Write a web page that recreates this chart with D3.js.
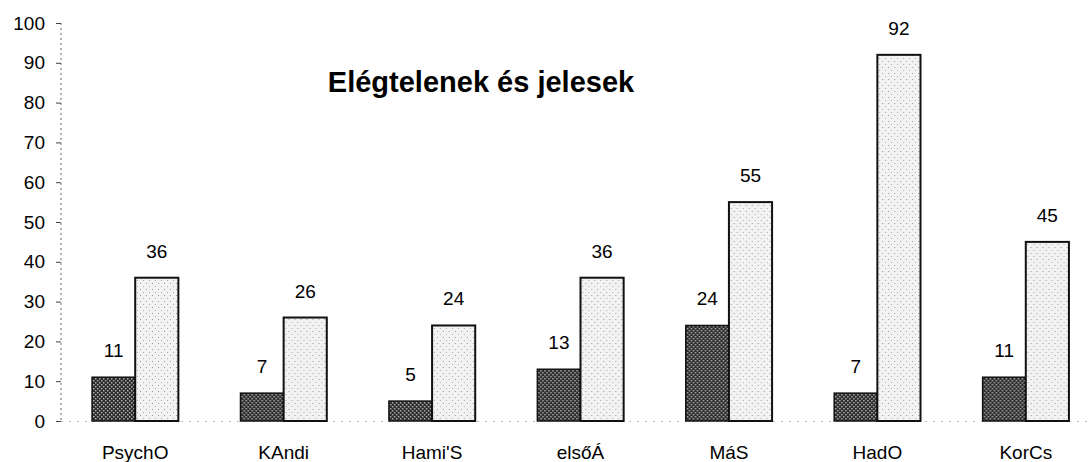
<!DOCTYPE html>
<html>
<head>
<meta charset="utf-8">
<script src="https://cdn.jsdelivr.net/npm/d3@7"></script>
<style>
  body { margin: 0; background: #fff; }
  svg { display: block; font-family: Arial, "Liberation Sans", sans-serif; }
</style>
</head>
<body>
<svg id="chart" width="1091" height="462"></svg>
<script>
// adatok
const categories = ['PsychO', 'KAndi', "Hami'S", 'elsőÁ', 'MáS', 'HadO', 'KorCs'];
const elegtelen = [11, 7, 5, 13, 24, 7, 11];
const jeles = [36, 26, 24, 36, 55, 92, 45];
const yTicks = [0, 10, 20, 30, 40, 50, 60, 70, 80, 90, 100];
const title = 'Elégtelenek és jelesek';

const svg = d3.select('#chart');
const x0 = 61, x1 = 1100, yBottom = 421, yTop = 23;
const font = 'Arial, "Liberation Sans", sans-serif';

const x = d3.scaleBand().domain(categories).range([x0, x1]).paddingInner(0).paddingOuter(0);
const xs = d3.scaleBand().domain(['e', 'j']).range([0, x.bandwidth()]).paddingInner(0).paddingOuter(0.72);
const y = d3.scaleLinear().domain([0, 100]).range([yBottom, yTop]);

// mintázatok
const defs = svg.append('defs');
const dark = defs.append('pattern').attr('id', 'dark')
    .attr('patternUnits', 'userSpaceOnUse').attr('width', 4).attr('height', 4);
dark.append('rect').attr('width', 4).attr('height', 4).attr('fill', '#2a2a2a');
dark.append('rect').attr('x', 0).attr('y', 0).attr('width', 1.5).attr('height', 1.5).attr('fill', '#b0b0b0');
dark.append('rect').attr('x', 2).attr('y', 2).attr('width', 1.5).attr('height', 1.5).attr('fill', '#b0b0b0');

const light = defs.append('pattern').attr('id', 'light')
    .attr('patternUnits', 'userSpaceOnUse').attr('width', 6).attr('height', 6);
light.append('rect').attr('width', 6).attr('height', 6).attr('fill', '#f2f2f2');
light.append('rect').attr('x', 1).attr('y', 1).attr('width', 1).attr('height', 1).attr('fill', '#999');
light.append('rect').attr('x', 4).attr('y', 4).attr('width', 1).attr('height', 1).attr('fill', '#aaa');

// tengelyek
svg.append('line')
    .attr('x1', x0).attr('x2', x0).attr('y1', y(100)).attr('y2', y(0))
    .attr('stroke', '#666').attr('stroke-width', 1).attr('stroke-dasharray', '2,3');
svg.append('line')
    .attr('x1', x0).attr('x2', 1091).attr('y1', y(0) + 0.5).attr('y2', y(0) + 0.5)
    .attr('stroke', '#bbb').attr('stroke-width', 1).attr('stroke-dasharray', '2,6');

const yAxis = svg.append('g').attr('transform', `translate(${x0},0)`)
    .call(d3.axisLeft(y).tickValues(yTicks).tickSize(5).tickPadding(11));
yAxis.select('.domain').remove();
yAxis.selectAll('line').attr('stroke', '#444');
yAxis.selectAll('text').attr('font-size', 19).attr('fill', '#000').attr('font-family', font);

const xAxis = svg.append('g').attr('transform', `translate(0,${yBottom})`)
    .call(d3.axisBottom(x).tickSize(0).tickPadding(25));
xAxis.select('.domain').remove();
xAxis.selectAll('text').attr('font-size', 19).attr('fill', '#000').attr('font-family', font);

// oszlopok
const groups = svg.selectAll('.grp')
    .data(categories.map((c, i) => ({ c, e: elegtelen[i], j: jeles[i] })))
    .enter().append('g').attr('class', 'grp')
    .attr('transform', d => `translate(${x(d.c)},0)`);

groups.append('rect')
    .attr('x', xs('e')).attr('width', xs.bandwidth())
    .attr('y', d => y(d.e)).attr('height', d => y(0) - y(d.e))
    .attr('fill', 'url(#dark)').attr('stroke', '#111').attr('stroke-width', 1.5);

groups.append('rect')
    .attr('x', xs('j')).attr('width', xs.bandwidth())
    .attr('y', d => y(d.j)).attr('height', d => y(0) - y(d.j))
    .attr('fill', 'url(#light)').attr('stroke', '#111').attr('stroke-width', 2);

groups.append('text')
    .attr('x', xs('e') + xs.bandwidth() / 2).attr('y', d => y(d.e) - 20)
    .attr('text-anchor', 'middle').attr('font-size', 19).text(d => d.e);

groups.append('text')
    .attr('x', xs('j') + xs.bandwidth() / 2).attr('y', d => y(d.j) - 20)
    .attr('text-anchor', 'middle').attr('font-size', 19).text(d => d.j);

// cím
svg.append('text')
    .attr('x', 481).attr('y', 92)
    .attr('text-anchor', 'middle').attr('font-size', 29).attr('font-weight', 'bold')
    .text(title);
</script>
</body>
</html>
